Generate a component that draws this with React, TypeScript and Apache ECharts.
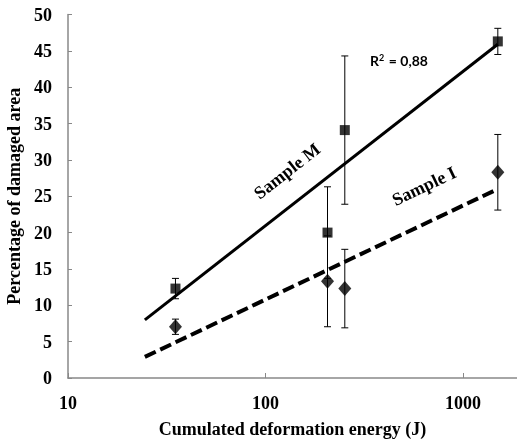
import React, { useEffect, useRef } from "react";
import * as echarts from "echarts";

const energyM = [35, 206, 252, 1500];
const damageM = [12.3, 20.0, 34.1, 46.3];
const errM = [1.4, 6.3, 10.2, 1.8];

const energyI = [35, 206, 252, 1500];
const damageI = [7.05, 13.3, 12.3, 28.3];
const errI = [1.05, 6.25, 5.4, 5.2];

const trendX = [24.5, 1500];
const trendM = [8.0, 45.9];
const trendI = [2.9, 26.0];

const xTickLabels = [10, 100, 1000];

const serif = "'Liberation Serif', 'Times New Roman', serif";

export default function App() {
  const ref = useRef<HTMLDivElement>(null);
  useEffect(() => {
    if (!ref.current) return;
    const chart = echarts.init(ref.current, null, { renderer: "svg" });
    const errData = (xs: number[], ys: number[], es: number[]) =>
      xs.map((x, i) => [x, ys[i], es[i]]);
    const renderErr = (params: any, api: any) => {
      const x = api.value(0);
      const y = api.value(1);
      const e = api.value(2);
      const top = api.coord([x, y + e]);
      const bot = api.coord([x, y - e]);
      const st = { stroke: "#000", lineWidth: 1 };
      const c = 3.5;
      return {
        type: "group",
        children: [
          { type: "line", shape: { x1: top[0], y1: top[1], x2: bot[0], y2: bot[1] }, style: st },
          { type: "line", shape: { x1: top[0] - c, y1: top[1], x2: top[0] + c, y2: top[1] }, style: st },
          { type: "line", shape: { x1: bot[0] - c, y1: bot[1], x2: bot[0] + c, y2: bot[1] }, style: st },
        ],
      };
    };
    chart.setOption({
      animation: false,
      grid: { left: 68, right: 0, top: 14.5, bottom: 61, outerBoundsMode: "none", containLabel: false },
      xAxis: {
        type: "log",
        logBase: 10,
        min: 10,
        max: 1876,
        name: "Cumulated deformation energy (J)",
        nameLocation: "middle",
        nameGap: 42,
        nameTextStyle: { fontFamily: serif, fontWeight: "bold", fontSize: 18, color: "#000" },
        axisLine: { lineStyle: { color: "#888", width: 1.5 } },
        axisTick: { inside: true, length: 5, lineStyle: { color: "#888" } },
        splitLine: { show: false },
        minorTick: { show: false },
        axisLabel: {
          fontFamily: serif,
          fontWeight: "bold",
          fontSize: 18,
          color: "#000",
          margin: 16,
          showMaxLabel: false,
          formatter: (v: number) => {
            const r = Math.round(v);
            return xTickLabels.includes(r) ? String(r) : "";
          },
        },
      },
      yAxis: {
        type: "value",
        min: 0,
        max: 50,
        interval: 5,
        name: "Percentage of damaged area",
        nameLocation: "middle",
        nameGap: 43,
        nameTextStyle: { fontFamily: serif, fontWeight: "bold", fontSize: 18, color: "#000" },
        axisLine: { show: true, lineStyle: { color: "#888", width: 1.5 } },
        axisTick: { show: true, inside: true, length: 4, lineStyle: { color: "#888" } },
        splitLine: { show: false },
        axisLabel: { fontFamily: serif, fontWeight: "bold", fontSize: 18, color: "#000", margin: 16 },
      },
      series: [
        {
          type: "line",
          data: trendX.map((x, i) => [x, trendM[i]]),
          showSymbol: false,
          lineStyle: { color: "#000", width: 3 },
          z: 2,
        },
        {
          type: "line",
          data: trendX.map((x, i) => [x, trendI[i]]),
          showSymbol: false,
          lineStyle: { color: "#000", width: 4, type: [12, 5] },
          z: 2,
        },
        {
          type: "custom",
          renderItem: renderErr,
          data: errData(energyM, damageM, errM),
          encode: { x: 0, y: 1 },
          z: 3,
        },
        {
          type: "custom",
          renderItem: renderErr,
          data: errData(energyI, damageI, errI),
          encode: { x: 0, y: 1 },
          z: 3,
        },
        {
          type: "scatter",
          data: energyM.map((x, i) => [x, damageM[i]]),
          symbol: "rect",
          symbolSize: 10,
          itemStyle: { color: "#000" },
          z: 4,
        },
        {
          type: "scatter",
          data: energyI.map((x, i) => [x, damageI[i]]),
          symbol: "diamond",
          symbolSize: [13, 15],
          itemStyle: { color: "#000" },
          z: 4,
        },
      ],
      graphic: [
        {
          type: "text",
          x: 287,
          y: 171,
          rotation: (38 * Math.PI) / 180,
          style: {
            text: "Sample M",
            fontFamily: serif,
            fontWeight: "bold",
            fontSize: 18,
            fill: "#000",
            align: "center",
            verticalAlign: "middle",
          },
        },
        {
          type: "text",
          x: 424,
          y: 186,
          rotation: (25.5 * Math.PI) / 180,
          style: {
            text: "Sample I",
            fontFamily: serif,
            fontWeight: "bold",
            fontSize: 18,
            fill: "#000",
            align: "center",
            verticalAlign: "middle",
          },
        },
        {
          type: "text",
          x: 399,
          y: 60,
          style: {
            text: "{a|R}{s|2}{a| = 0,88}",
            align: "center",
            verticalAlign: "middle",
            rich: {
              a: { fontFamily: "Lato, 'Noto Sans', sans-serif", fontWeight: "bold", fontSize: 14, fill: "#000" },
              s: { fontFamily: "Lato, 'Noto Sans', sans-serif", fontWeight: "bold", fontSize: 9, fill: "#000", verticalAlign: "top", padding: [0, 1, 6, 0] },
            },
          },
        },
      ],
    });
    return () => chart.dispose();
  }, []);
  return <div ref={ref} style={{ position: "fixed", left: 0, top: 0, width: 517, height: 439 }} />;
}
